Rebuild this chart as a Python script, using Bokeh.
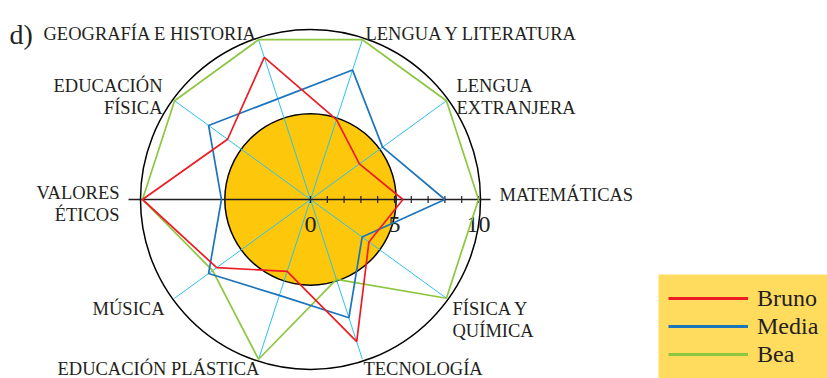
import numpy as np
from bokeh.plotting import figure
from bokeh.models import Range1d, Legend, LegendItem
from bokeh.core.properties import value
from bokeh.embed import file_html
from bokeh.resources import INLINE

# ---- data ----
categories = ["MATEMÁTICAS", "LENGUA EXTRANJERA", "LENGUA Y LITERATURA",
              "GEOGRAFÍA E HISTORIA", "EDUCACIÓN FÍSICA", "VALORES ÉTICOS",
              "MÚSICA", "EDUCACIÓN PLÁSTICA", "TECNOLOGÍA", "FÍSICA Y QUÍMICA"]
bruno = [5.5, 3.6, 5.0, 8.9, 6.1, 10, 6.9, 4.5, 8.9, 4.3]
media = [8.0, 5.3, 8.1, 6.3, 7.5, 5.3, 7.5, 6.0, 7.4, 3.8]
bea = [10, 10, 10, 10, 10, 10, 7.2, 10, 5.0, 10]
series_names = ["Bruno", "Media", "Bea"]
scale_max = 10
tick_values = list(range(0, 11))
tick_labels = ["0", "5", "10"]
tick_label_values = [0, 5, 10]
reference_level = 5.1

# ---- layout helpers (picture px -> data units) ----
U = 16.8
CX, CY = 310.0, 199.0
W, H = 827, 378


def X(px):
    return (px - CX) / U


def Y(py):
    return (CY - py) / U


FONT = "Liberation Serif"
TXT = "#231F20"
RED, BLUE, GREEN, CYAN = "#ED1C24", "#1C75BC", "#8DC63F", "#29C3F0"
YELLOW, LEG_BG = "#FDC70C", "#FFDB5E"

p = figure(width=W, height=H, output_backend="svg", toolbar_location=None,
           x_range=Range1d(X(0), X(W)), y_range=Range1d(Y(H), Y(0)),
           min_border=0, outline_line_color=None)
p.xaxis.visible = False
p.yaxis.visible = False
p.xgrid.visible = False
p.ygrid.visible = False

angles = np.deg2rad(np.arange(len(categories)) * 360.0 / len(categories))

# yellow reference disk
p.circle(x=[0], y=[0], radius=reference_level, fill_color=YELLOW,
         line_color="black", line_width=1.5)

# cyan spokes
p.segment(x0=np.zeros(len(angles)), y0=np.zeros(len(angles)),
          x1=scale_max * np.cos(angles), y1=scale_max * np.sin(angles),
          line_color=CYAN, line_width=1)

# outer circle
p.circle(x=[0], y=[0], radius=10.12, fill_color=None, line_color="black",
         line_width=1.5)

# horizontal axis with ticks
p.segment(x0=[X(128)], y0=[0], x1=[X(490)], y1=[0], line_color="#231F20",
          line_width=1.5)
p.segment(x0=tick_values, y0=[-0.21] * len(tick_values), x1=tick_values,
          y1=[0.21] * len(tick_values), line_color="#231F20", line_width=1.2)
p.text(x=tick_label_values, y=[Y(224)] * 3, text=tick_labels,
       text_font=value(FONT), text_font_size="24px", text_align="center",
       text_baseline="alphabetic", text_color=TXT)

# series
renderers = []
for vals, col in [(bea, GREEN), (media, BLUE), (bruno, RED)]:
    v = np.array(vals + vals[:1], dtype=float)
    a = np.concatenate([angles, angles[:1]])
    p.line(x=v * np.cos(a), y=v * np.sin(a), line_color=col, line_width=1.7)
    # legend proxy with thicker stroke (not drawn in the plot)
    renderers.append(p.line(x=[np.nan], y=[np.nan], line_color=col,
                            line_width=3.2))
r_bea, r_media, r_bruno = renderers

# category labels (text, left x or right x, baseline y, align)
labels = [
    ("GEOGRAFÍA E HISTORIA", 43, 33, "left"),
    ("LENGUA Y LITERATURA", 365, 33, "left"),
    ("EDUCACIÓN", 162, 85, "right"),
    ("FÍSICA", 162, 107, "right"),
    ("LENGUA", 456, 85, "left"),
    ("EXTRANJERA", 456, 107, "left"),
    ("VALORES", 119, 192, "right"),
    ("ÉTICOS", 119, 214, "right"),
    ("MATEMÁTICAS", 499, 194, "left"),
    ("MÚSICA", 164, 308, "right"),
    ("FÍSICA Y", 452, 308, "left"),
    ("QUÍMICA", 452, 330, "left"),
    ("EDUCACIÓN PLÁSTICA", 57, 368, "left"),
    ("TECNOLOGÍA", 363, 368, "left"),
]
for t, lx, by, al in labels:
    p.text(x=[X(lx)], y=[Y(by)], text=[t], text_font=value(FONT),
           text_font_size="18.5px", text_align=al, text_baseline="alphabetic",
           text_color=TXT)

p.text(x=[X(9)], y=[Y(34)], text=["d)"], text_font=value(FONT),
       text_font_size="28px", text_align="left", text_baseline="alphabetic",
       text_color=TXT)

# legend panel background
p.quad(left=[X(658)], right=[X(W)], top=[Y(274)], bottom=[Y(H)],
       fill_color=LEG_BG, line_color=None, level="underlay")

legend = Legend(items=[LegendItem(label=series_names[0], renderers=[r_bruno]),
                       LegendItem(label=series_names[1], renderers=[r_media]),
                       LegendItem(label=series_names[2], renderers=[r_bea])],
                location=(668, 10), orientation="vertical",
                padding=0, margin=0, spacing=0,
                glyph_width=80, glyph_height=28, label_height=28,
                label_standoff=9, label_text_font=FONT,
                label_text_font_size="24px", label_text_color=TXT,
                background_fill_color=LEG_BG, background_fill_alpha=0.0,
                border_line_color=None)
p.add_layout(legend)

open("out.html", "w").write(file_html(p, INLINE))
